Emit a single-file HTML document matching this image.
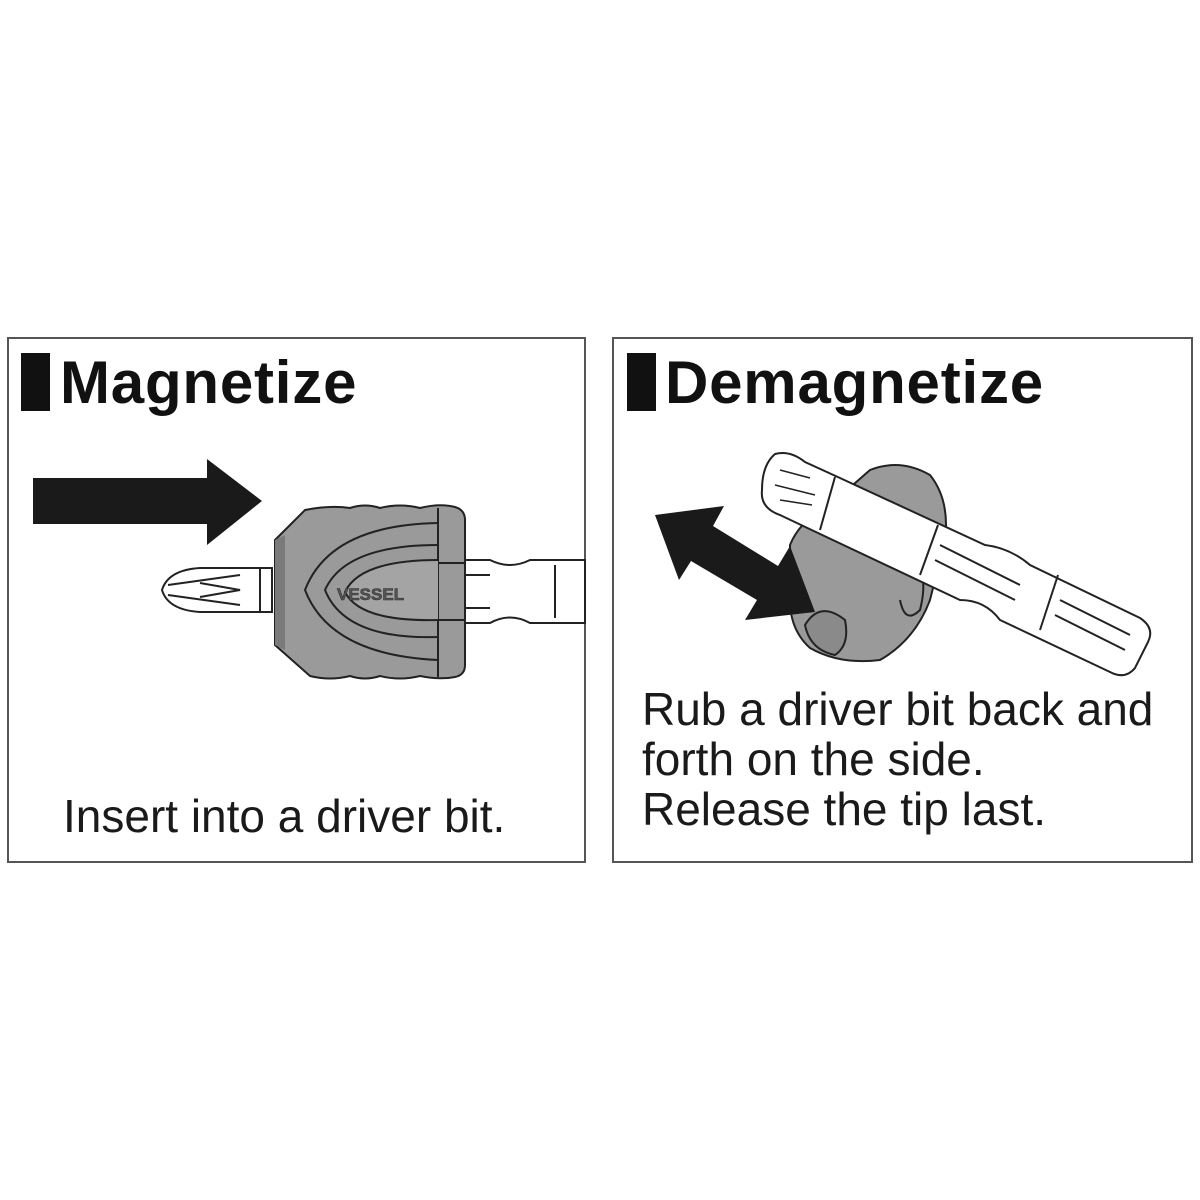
<!DOCTYPE html>
<html><head><meta charset="utf-8"><style>
html,body{margin:0;padding:0;background:#fff;}
svg{display:block;}
text{font-family:"Liberation Sans",Arial,sans-serif;}
</style></head><body>
<svg width="1200" height="1200" viewBox="0 0 1200 1200" xmlns="http://www.w3.org/2000/svg">
<rect width="1200" height="1200" fill="#fff"/>
<rect x="8" y="338" width="577" height="524" fill="#fff" stroke="#555" stroke-width="2"/>
<rect x="613" y="338" width="579" height="524" fill="#fff" stroke="#555" stroke-width="2"/>

<rect x="21" y="353" width="29" height="58" fill="#111"/>
<text x="60" y="403" font-size="60" font-weight="bold" fill="#111" letter-spacing="0.8">Magnetize</text>
<rect x="627" y="353" width="29" height="58" fill="#111"/>
<text x="665" y="403" font-size="60" font-weight="bold" fill="#111" letter-spacing="0.8">Demagnetize</text>

<polygon points="33,478 207,478 207,459 262,501 207,545 207,524 33,524" fill="#1a1a1a"/>

<g fill="#fff" stroke="#222" stroke-width="2">
<path d="M272,568 L200,568 Q168,570 162,590 Q168,610 200,612 L272,612 Z"/>
<line x1="260" y1="568" x2="260" y2="612"/>
<path d="M168,585 L240,575 M168,595 L240,605 M200,583 L240,590 L200,597" fill="none"/>
<path d="M462,560 L490,560 Q510,570 530,560 L585,560 L585,623 L530,623 Q510,612 490,623 L462,623 Z"/>
<line x1="465" y1="575" x2="490" y2="575"/><line x1="465" y1="608" x2="490" y2="608"/>
<line x1="555" y1="565" x2="555" y2="618"/>
</g>
<path d="M275,540 L305,510 Q330,505 350,508 Q365,503 380,508 Q400,503 420,508 Q440,503 455,507 Q465,510 465,520 L465,665 Q465,675 455,677 Q440,680 420,676 Q400,681 380,676 Q365,681 350,676 Q330,681 310,676 L275,645 Z" fill="#9a9a9a" stroke="#222" stroke-width="2"/>
<path d="M275,540 L285,535 L285,650 L275,645 Z" fill="#7a7a7a"/>
<line x1="438" y1="508" x2="438" y2="677" stroke="#222" stroke-width="2"/>
<path d="M438,523 Q330,525 305,590 Q330,655 438,660" fill="none" stroke="#222" stroke-width="2"/>
<path d="M438,545 Q345,545 325,590 Q345,640 438,637" fill="none" stroke="#222" stroke-width="2"/>
<path d="M438,560 Q360,560 345,592 Q360,622 438,620" fill="#a4a4a4" stroke="#222" stroke-width="2"/>
<line x1="438" y1="563" x2="465" y2="563" stroke="#222" stroke-width="2"/>
<line x1="438" y1="620" x2="465" y2="620" stroke="#222" stroke-width="2"/>
<text x="337" y="600" font-size="17" font-weight="bold" font-family="Liberation Serif,serif" fill="#555" stroke="#333" stroke-width="0.6">VESSEL</text>

<path d="M790,545 Q800,520 830,505 L870,470 Q900,458 930,475 Q950,500 945,540 L930,600 Q915,640 880,660 Q840,665 810,648 Q790,630 790,600 Z" fill="#9a9a9a" stroke="#222" stroke-width="2"/>
<path d="M805,625 Q820,600 845,620 Q850,645 835,655 Q810,650 805,625 Z" fill="#8a8a8a" stroke="#222" stroke-width="2"/>
<path d="M910,560 Q930,570 920,610 Q905,625 900,600" fill="none" stroke="#222" stroke-width="2"/>
<g fill="#fff" stroke="#222" stroke-width="2">
<path d="M775,454 Q790,450 805,462 L840,478 L985,545 Q1010,548 1030,565 L1140,618 Q1155,628 1148,642 L1135,668 Q1125,680 1110,672 L1000,620 Q985,600 960,600 L818,533 L780,515 Q760,508 762,490 Q762,465 775,454 Z"/>
<line x1="835" y1="477" x2="820" y2="530"/>
<line x1="938" y1="525" x2="920" y2="575"/>
<line x1="1058" y1="575" x2="1040" y2="630"/>
<path d="M940,545 L1020,585 M935,560 L1015,600" fill="none"/>
<path d="M1060,600 L1130,635 M1055,615 L1125,650" fill="none"/>
<path d="M780,470 L810,478 M775,485 L815,495 M780,500 L812,505" fill="none" stroke-width="1.5"/>
</g>
<polygon points="655,515 724,506 713,526 778,566 790,546 815,612 745,620 757,600 691,561 679,580" fill="#1a1a1a"/>

<text x="63" y="832" font-size="46" fill="#1a1a1a">Insert into a driver bit.</text>
<text x="642" y="725" font-size="46" fill="#1a1a1a">Rub a driver bit back and</text>
<text x="642" y="775" font-size="46" fill="#1a1a1a">forth on the side.</text>
<text x="642" y="825" font-size="46" fill="#1a1a1a">Release the tip last.</text>
</svg>
</body></html>
